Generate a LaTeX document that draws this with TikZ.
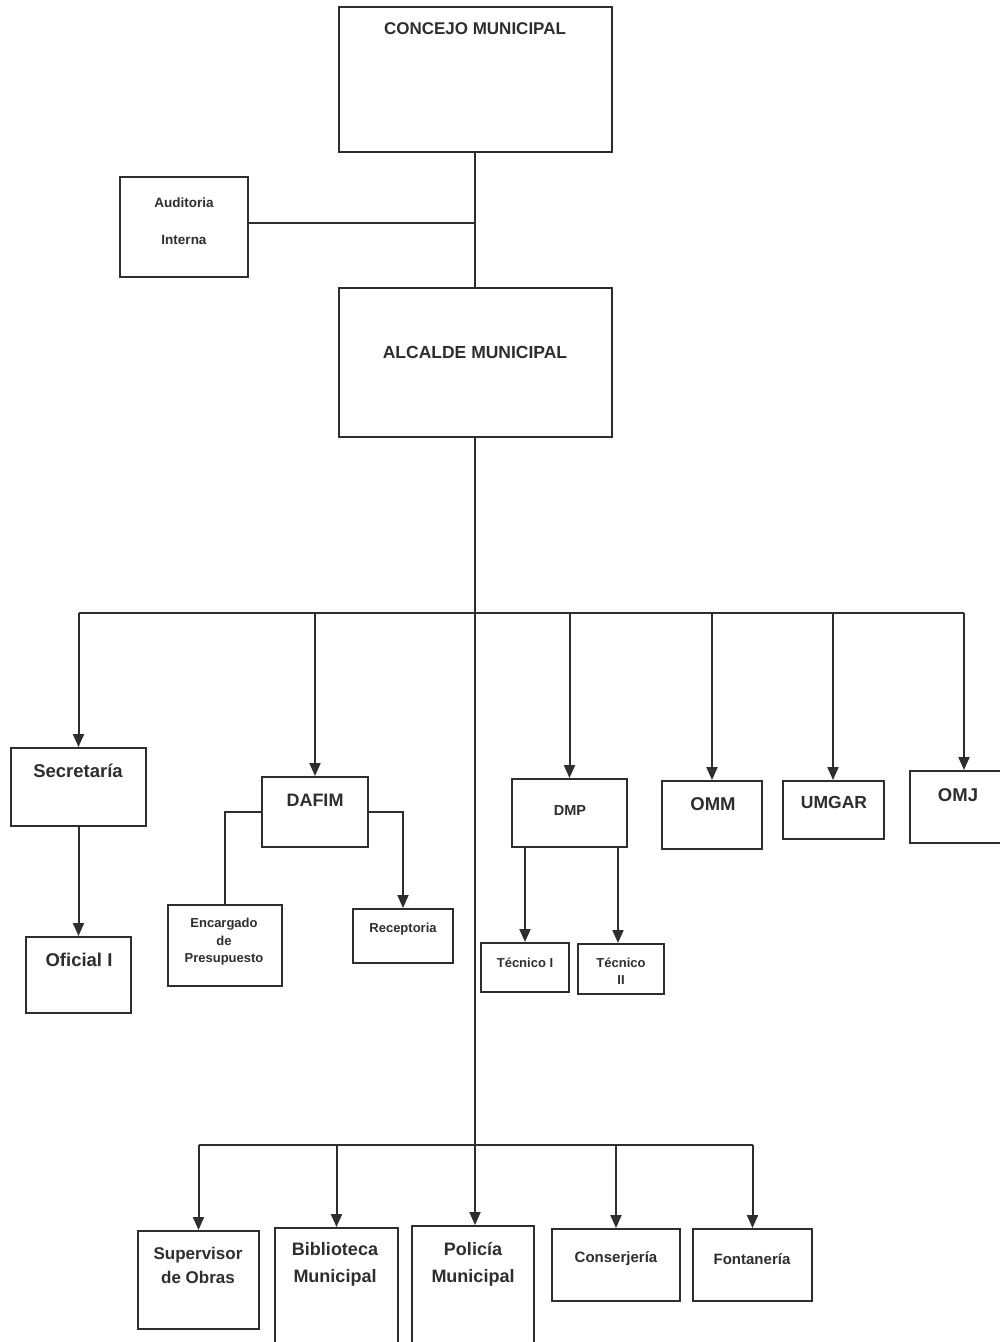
\documentclass[tikz,border=0pt]{standalone}
\usepackage{fontspec}
\setmainfont{Liberation Sans}
\usetikzlibrary{arrows.meta}
\definecolor{ink}{HTML}{2e2e2e}
\tikzset{
  box/.style={draw=ink, line width=2pt, inner sep=0pt},
  lbl/.style={text=ink, font=\bfseries\fontsize{#1}{#1}\selectfont, inner sep=0pt, align=center},
  conn/.style={draw=ink, line width=2pt},
  arr/.style={conn, -{Triangle[length=13pt,width=11pt]}}
}
\begin{document}
\begin{tikzpicture}[x=1pt,y=-1pt]
\useasboundingbox[fill=white] (0,0) rectangle (1000,1342);
% boxes
\node[box, minimum width=273pt, minimum height=145pt] (concejo) at (475,79.5) {};
\node[box, minimum width=128pt, minimum height=100pt] (aud) at (184,227) {};
\node[box, minimum width=273pt, minimum height=149pt] (alcalde) at (475,362.5) {};
\node[box, minimum width=135pt, minimum height=78pt] (secr) at (78.5,787) {};
\node[box, minimum width=105pt, minimum height=76pt] (oficial) at (78.5,975) {};
\node[box, minimum width=106pt, minimum height=70pt] (dafim) at (315,812) {};
\node[box, minimum width=114pt, minimum height=81pt] (enc) at (225,945.5) {};
\node[box, minimum width=100pt, minimum height=54pt] (recep) at (403,936) {};
\node[box, minimum width=115pt, minimum height=68pt] (dmp) at (569.5,813) {};
\node[box, minimum width=88pt, minimum height=49pt] (tec1) at (525,967.5) {};
\node[box, minimum width=86pt, minimum height=50pt] (tec2) at (621,969) {};
\node[box, minimum width=100pt, minimum height=68pt] (omm) at (712,815) {};
\node[box, minimum width=101pt, minimum height=58pt] (umgar) at (833,810) {};
\node[box, minimum width=108pt, minimum height=72pt] (omj) at (964,807) {};
\node[box, minimum width=121pt, minimum height=98pt] (sup) at (198.5,1280) {};
\node[box, minimum width=123pt, minimum height=130pt] (bib) at (336.5,1293) {};
\node[box, minimum width=122pt, minimum height=130pt] (pol) at (473,1291) {};
\node[box, minimum width=128pt, minimum height=72pt] (cons) at (616,1265) {};
\node[box, minimum width=119pt, minimum height=72pt] (font) at (752.5,1265) {};
% labels
\node[lbl=17] (concejoT) at (475,29) {CONCEJO MUNICIPAL};
\node[lbl=17.5] (alcaldeT) at (475,352) {ALCALDE MUNICIPAL};
\node[lbl=13.5] (audT1) at (184,203) {Auditoria};
\node[lbl=13.5] (audT2) at (184,240) {Interna};
\node[lbl=18.5] (secrT) at (78,771) {Secretaría};
\node[lbl=18.5] (oficialT) at (79,960) {Oficial I};
\node[lbl=18] (dafimT) at (315,800) {DAFIM};
\node[lbl=13, font=\bfseries\fontsize{13}{17.5}\selectfont] (encT) at (224,942) {Encargado\\de\\Presupuesto};
\node[lbl=13] (recepT) at (403,929) {Receptoria};
\node[lbl=14.5] (dmpT) at (570,810) {DMP};
\node[lbl=13] (tec1T) at (525,963) {Técnico I};
\node[lbl=13, font=\bfseries\fontsize{13}{17}\selectfont] (tec2T) at (621,971) {Técnico\\II};
\node[lbl=18.5] (ommT) at (713,804) {OMM};
\node[lbl=17.5] (umgarT) at (834,802) {UMGAR};
\node[lbl=18.5] (omjT) at (958,795) {OMJ};
\node[lbl=17, font=\bfseries\fontsize{17}{24}\selectfont] (supT) at (198,1265) {Supervisor\\de Obras};
\node[lbl=18, font=\bfseries\fontsize{18}{27}\selectfont] (bibT) at (335,1264) {Biblioteca\\Municipal};
\node[lbl=18, font=\bfseries\fontsize{18}{27}\selectfont] (polT) at (473,1264) {Policía\\Municipal};
\node[lbl=15] (consT) at (616,1259) {Conserjería};
\node[lbl=15] (fontT) at (752,1259) {Fontanería};
% connectors
\coordinate (bus) at (475,613);
\coordinate (bus2) at (475,1145);
\draw[conn] (concejo.south) -- (alcalde.north);
\draw[conn] ([yshift=4pt]aud.east) -- ([yshift=4pt]aud.east -| concejo.south);
\draw[arr] (alcalde.south) -- (alcalde.south |- pol.north);
\draw[conn] (bus -| secr.north) -- (bus -| omj.north);
\draw[arr] (bus -| secr.north) -- (secr.north);
\draw[arr] (bus -| dafim.north) -- (dafim.north);
\draw[arr] (bus -| dmp.north) -- (dmp.north);
\draw[arr] (bus -| omm.north) -- (omm.north);
\draw[arr] (bus -| umgar.north) -- (umgar.north);
\draw[arr] (bus -| omj.north) -- (omj.north);
\draw[arr] (secr.south) -- (oficial.north);
\draw[conn] (dafim.west) -| (enc.north);
\draw[arr] (dafim.east) -| (recep.north);
\draw[arr] (tec1.north |- dmp.south) -- (tec1.north);
\draw[arr] ([xshift=-3pt]tec2.north |- dmp.south) -- ([xshift=-3pt]tec2.north);
\draw[conn] (bus2 -| sup.north) -- (bus2 -| font.north);
\draw[arr] (bus2 -| sup.north) -- (sup.north);
\draw[arr] (bus2 -| bib.north) -- (bib.north);
\draw[arr] (bus2 -| cons.north) -- (cons.north);
\draw[arr] (bus2 -| font.north) -- (font.north);
\end{tikzpicture}
\end{document}
